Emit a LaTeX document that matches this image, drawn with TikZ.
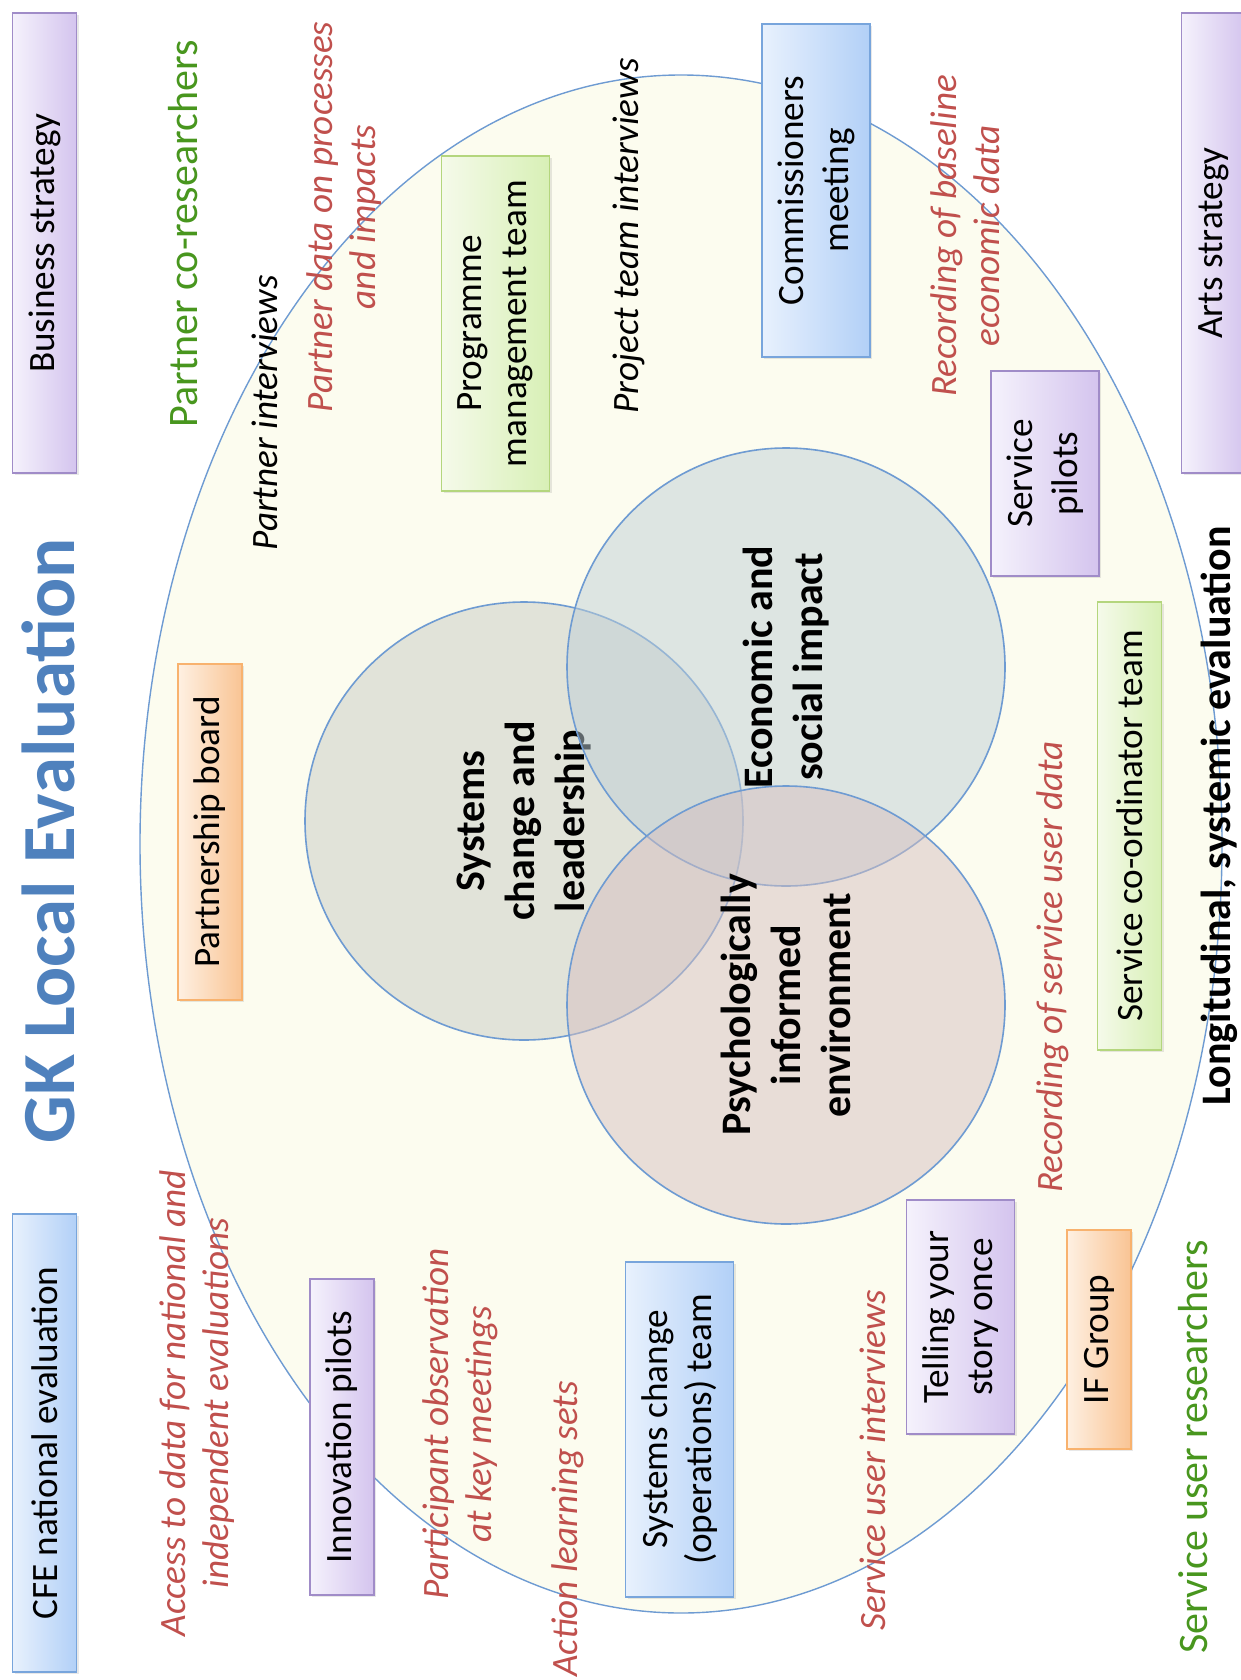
\documentclass[tikz,border=0pt]{standalone}
\usepackage{fontspec}
\setmainfont{Carlito}
\usetikzlibrary{shapes.geometric,shadows}
\definecolor{gkblue}{RGB}{79,129,189}
\definecolor{gkred}{RGB}{192,80,77}
\definecolor{gkgreen}{RGB}{72,150,30}
\definecolor{ovalfill}{RGB}{252,252,239}
\definecolor{ovalline}{RGB}{110,155,210}
\definecolor{sysfill}{RGB}{200,204,196}
\definecolor{ecofill}{RGB}{191,207,214}
\definecolor{psyfill}{RGB}{214,191,192}
\definecolor{purpleline}{RGB}{160,140,200}
\definecolor{purplelight}{RGB}{245,242,252}
\definecolor{purpledark}{RGB}{212,196,238}
\definecolor{blueline}{RGB}{120,165,220}
\definecolor{bluelight}{RGB}{232,241,253}
\definecolor{bluedark}{RGB}{178,208,247}
\definecolor{greenline}{RGB}{180,214,125}
\definecolor{greenlight}{RGB}{245,250,234}
\definecolor{greendark}{RGB}{216,240,182}
\definecolor{orangeline}{RGB}{248,178,110}
\definecolor{orangelight}{RGB}{254,240,226}
\definecolor{orangedark}{RGB}{249,196,148}
\begin{document}
\begin{tikzpicture}[x=0.5pt, y=-0.5pt,
    box/.style = {draw, rotate=90, align=center, inner sep=0pt, line width=0.9pt,
        font=\fontsize{18.6}{22.4}\selectfont,
        drop shadow={opacity=0.18, shadow xshift=1pt, shadow yshift=-1pt}},
    onerow/.style = {minimum height=32pt},
    tworow/.style = {minimum height=54pt},
    purplebox/.style = {box, draw=purpleline, left color=purplelight, right color=purpledark},
    bluebox/.style = {box, draw=blueline, left color=bluelight, right color=bluedark},
    greenbox/.style = {box, draw=greenline, left color=greenlight, right color=greendark},
    orangebox/.style = {box, draw=orangeline, left color=orangelight, right color=orangedark},
    note/.style = {rotate=90, align=center, inner sep=0pt, text=gkred,
        font=\fontsize{18.6}{21.6}\selectfont\itshape},
    talk/.style = {note, text=black},
    group/.style = {rotate=90, inner sep=0pt, text=gkgreen, font=\fontsize{21}{25}\selectfont},
    venn/.style = {circle, draw=ovalline, line width=0.8pt, minimum size=219pt, inner sep=0pt,
        fill opacity=0.5, text opacity=1, align=center, rotate=90,
        font=\bfseries\fontsize{21}{25}\selectfont}]
    \useasboundingbox (0,0) rectangle (1241,1680);

    \node[ellipse, draw=ovalline, line width=0.7pt, fill=ovalfill, inner sep=0pt,
        minimum width=541pt, minimum height=769pt] (oval) at (681,844) {};

    \node[venn, fill=sysfill] (sys) at (524,821) {Systems\\change and\\leadership};
    \node[venn, fill=ecofill] (eco) at (786,667) {Economic and\\social impact};
    \node[venn, fill=psyfill] (psy) at (786,1005) {Psychologically\\informed\\environment};

    \node[rotate=90, inner sep=0pt, text=gkblue, font=\bfseries\fontsize{37.5}{45}\selectfont] (title) at (48,841) {GK Local Evaluation};

    \node[purplebox, onerow, minimum width=230pt] (biz) at (44.5,243) {Business strategy};
    \node[bluebox, onerow, minimum width=229pt] (cfe) at (44.5,1443) {CFE national evaluation};
    \node[purplebox, onerow, minimum width=230pt] (arts) at (1213.5,243) {Arts strategy};
    \node[greenbox, tworow, minimum width=167.5pt] (prog) at (495.5,323.5) {Programme\\management team};
    \node[bluebox, tworow, minimum width=166.5pt] (comm) at (816,190.5) {Commissioners\\meeting};
    \node[purplebox, tworow, minimum width=102.5pt] (svcp) at (1045,473.5) {Service\\pilots};
    \node[orangebox, onerow, minimum width=168pt] (pb) at (210,832) {Partnership board};
    \node[greenbox, onerow, minimum width=224pt] (sco) at (1129.5,826) {Service co-ordinator team};
    \node[purplebox, onerow, minimum width=158pt] (innov) at (342,1437) {Innovation pilots};
    \node[bluebox, tworow, minimum width=167.5pt] (sct) at (679.5,1429.5) {Systems change\\(operations) team};
    \node[purplebox, tworow, minimum width=117pt] (tell) at (960.5,1317) {Telling your\\story once};
    \node[orangebox, onerow, minimum width=109.5pt] (ifg) at (1099,1339.5) {IF Group};

    \node[note] (pdata) at (344,217) {Partner data on processes\\and impacts};
    \node[note] (basel) at (965,236) {Recording of baseline\\economic data};
    \node[note] (access) at (197,1403) {Access to data for national and\\independent evaluations};
    \node[note] (partobs) at (460,1424) {Participant observation\\at key meetings};
    \node[note] (action) at (568,1529) {Action learning sets};
    \node[note] (suint) at (873,1460) {Service user interviews};
    \node[note] (rsud) at (1053,967) {Recording of service user data};
    \node[talk] (pint) at (265,413) {Partner interviews};
    \node[talk] (ptint) at (629,236) {Project team interviews};

    \node[group] (pcor) at (183,234) {Partner co-researchers};
    \node[group] (sur) at (1193,1447) {Service user researchers};
    \node[rotate=90, inner sep=0pt, font=\bfseries\fontsize{21}{25}\selectfont] (longi) at (1219,816) {Longitudinal, systemic evaluation};
\end{tikzpicture}
\end{document}
